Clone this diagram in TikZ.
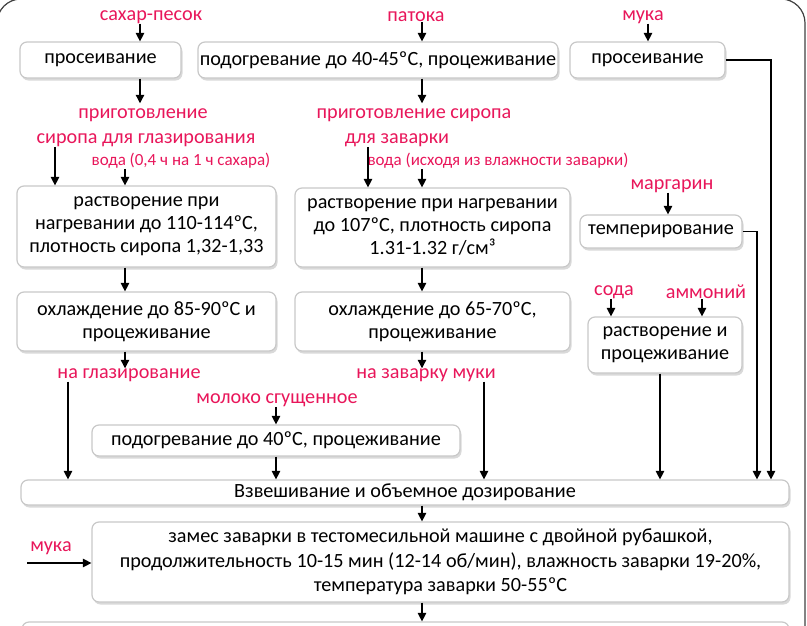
\documentclass[tikz,border=0pt]{standalone}
\usepackage{fontspec}
\setmainfont{Carlito}
\usetikzlibrary{arrows.meta,shadows}
\definecolor{labelred}{RGB}{232,22,90}
\definecolor{boxgray}{RGB}{200,200,200}

\begin{document}
\begin{tikzpicture}[x=1pt,y=-1pt,
	stage/.style={draw=boxgray,line width=1.2pt,fill=white,rounded corners=7pt,align=center,inner sep=0pt,
		font=\fontsize{20.2}{23}\selectfont,drop shadow={shadow xshift=1.5pt,shadow yshift=-2.5pt,opacity=0.3}},
	ingr/.style={text=labelred,inner sep=0pt,font=\fontsize{20.2}{23}\selectfont},
	note/.style={text=labelred,inner sep=0pt,font=\fontsize{17}{20}\selectfont},
	arr/.style={draw=black,line width=1.2pt,-{Triangle[length=8.5pt,width=8.5pt]}}]

	\useasboundingbox (0,0) rectangle (807,625);
	\clip (0,0) rectangle (807,625);
	\draw[black!75,line width=1.2pt,rounded corners=24pt] (-3,-1) rectangle (805,700);

		\node[stage,minimum width=161,minimum height=36] (sift1)     at (100.5,60)  {просеивание};
		\node[stage,minimum width=360,minimum height=36] (heat1)     at (378,60)    {подогревание до 40-45ºС, процеживание};
		\node[stage,minimum width=155,minimum height=36] (sift2)     at (647.5,60)  {просеивание};
		\node[stage,minimum width=259,minimum height=81] (dissolve1) at (146.5,226.5) {растворение при\\нагревании до 110-114ºС,\\плотность сиропа 1,32-1,33};
		\node[stage,minimum width=259,minimum height=59] (cool1)     at (146.5,321.5) {охлаждение до 85-90ºС и\\процеживание};
		\node[stage,minimum width=275,minimum height=79] (dissolve2) at (432.5,227.5) {растворение при нагревании\\до 107ºС, плотность сиропа\\1.31-1.32 г/см³};
		\node[stage,minimum width=275,minimum height=59] (cool2)     at (432.5,321.5) {охлаждение до 65-70ºС,\\процеживание};
		\node[stage,minimum width=162,minimum height=33] (temper)    at (661,231.5) {темперирование};
		\node[stage,minimum width=154,minimum height=56] (dissolve3) at (665,345)   {растворение и\\процеживание};
		\node[stage,minimum width=368,minimum height=31] (heat2)     at (276,440.5) {подогревание до 40ºС, процеживание};
		\node[stage,minimum width=768,minimum height=25] (weigh)     at (405,492.5) {Взвешивание и объемное дозирование};
		\node[stage,minimum width=697,minimum height=80] (knead)     at (440.5,562) {замес заварки в тестомесильной машине с двойной рубашкой,\\[1.5pt]продолжительность 10-15 мин (12-14 об/мин), влажность заварки 19-20\%,\\[1.5pt]температура заварки 50-55ºС};
		\node[stage,minimum width=767,minimum height=43] (next)      at (405.5,643.5) {};

		\node[ingr] (sugar)     at (151,17)  {сахар-песок};
		\node[ingr] (treacle)   at (416,17)  {патока};
		\node[ingr] (flour1)    at (643,17)  {мука};
		\node[ingr] (prep1)     at (143,115) {приготовление};
		\node[ingr] (prep1b)    at (146,140) {сиропа для глазирования};
		\node[note] (water1)    at (181,161) {вода (0,4 ч на 1 ч сахара)};
		\node[ingr] (prep2)     at (414,115) {приготовление сиропа};
		\node[ingr] (prep2b)    at (397,140) {для заварки};
		\node[note] (water2)    at (498,161) {вода (исходя из влажности заварки)};
		\node[ingr] (margarine) at (672,186) {маргарин};
		\node[ingr] (soda)      at (614,292) {сода};
		\node[ingr] (ammonium)  at (706,292) {аммоний};
		\node[ingr] (toglaze)   at (129,375) {на глазирование};
		\node[ingr] (tobrew)    at (426,375) {на заварку муки};
		\node[ingr] (milk)      at (277,400) {молоко сгущенное};
		\node[ingr] (flour2)    at (51,548)  {мука};

		\coordinate (k1)  at (55,0);
		\coordinate (k2)  at (125,0);
		\coordinate (k3)  at (140,0);
		\coordinate (k4)  at (68,0);
		\coordinate (k5)  at (276,0);
		\coordinate (k6)  at (368,0);
		\coordinate (k7)  at (422,0);
		\coordinate (k8)  at (484,0);
		\coordinate (k9)  at (648,0);
		\coordinate (k10) at (611,0);
		\coordinate (k11) at (702,0);
		\coordinate (k12) at (668,0);
		\coordinate (k13) at (660,0);
		\coordinate (k14) at (757,0);
		\coordinate (k15) at (771,0);
		\coordinate (flourin) at (27,563);

		\draw[arr] (sugar.south -| k3)     -- (sift1.north -| k3);
		\draw[arr] (treacle.south -| k7)   -- (heat1.north -| k7);
		\draw[arr] (flour1.south -| k9)    -- (sift2.north -| k9);
		\draw[arr,shorten >=5pt] (sift1.south -| k3) -- (prep1.north -| k3);
		\draw[arr,shorten >=5pt] (heat1.south -| k7) -- (prep2.north -| k7);
		\draw[arr] (prep1b.south -| k1)    -- (dissolve1.north -| k1);
		\draw[arr] (water1.south -| k2)    -- (dissolve1.north -| k2);
		\draw[arr] (prep2b.south -| k6)    -- (dissolve2.north -| k6);
		\draw[arr] (water2.south -| k7)    -- (dissolve2.north -| k7);
		\draw[arr] (dissolve1.south -| k2) -- (cool1.north -| k2);
		\draw[arr] (dissolve2.south -| k7) -- (cool2.north -| k7);
		\draw[arr] (cool1.south -| k2)     -- (toglaze.north -| k2);
		\draw[arr] (cool2.south -| k7)     -- (tobrew.north -| k7);
		\draw[arr] (margarine.south -| k12) -- (temper.north -| k12);
		\draw[arr] (soda.south -| k10)     -- (dissolve3.north -| k10);
		\draw[arr] (ammonium.south -| k11) -- (dissolve3.north -| k11);
		\draw[arr] (milk.south -| k5)      -- (heat2.north -| k5);
		\draw[arr] (toglaze.south -| k4)   -- (weigh.north -| k4);
		\draw[arr] (heat2.south -| k5)     -- (weigh.north -| k5);
		\draw[arr] (tobrew.south -| k8)    -- (weigh.north -| k8);
		\draw[arr] (dissolve3.south -| k13) -- (weigh.north -| k13);
		\draw[arr] (temper.east)           -| (weigh.north -| k14);
		\draw[arr] (sift2.east)            -| (weigh.north -| k15);
		\draw[arr] (weigh.south -| k7)     -- (knead.north -| k7);
		\draw[arr] (flourin)               -- (flourin -| knead.west);
		\draw[arr] (knead.south -| k7)     -- (next.north -| k7);

\end{tikzpicture}
\end{document}
